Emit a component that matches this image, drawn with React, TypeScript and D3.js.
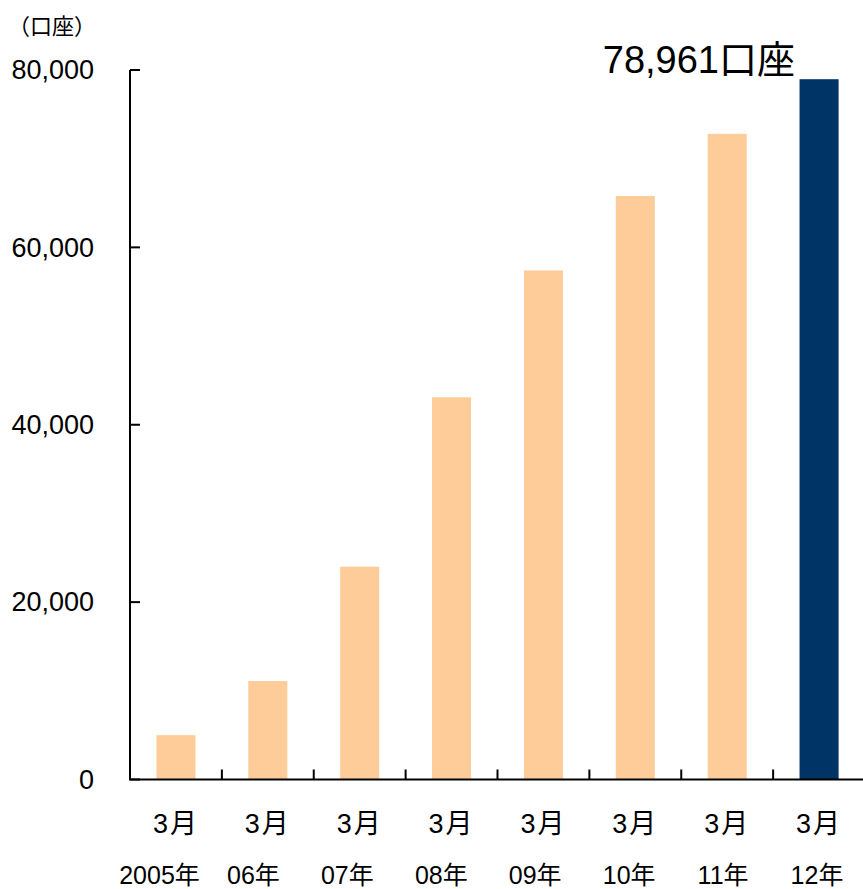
import React from "react";
import * as d3 from "d3";

const categories = ["2005", "06", "07", "08", "09", "10", "11", "12"];
const monthLabels = ["3月", "3月", "3月", "3月", "3月", "3月", "3月", "3月"];
const yearLabels = ["2005年", "06年", "07年", "08年", "09年", "10年", "11年", "12年"];
const accounts = [5000, 11100, 24000, 43100, 57400, 65800, 72800, 78961];
const yTicks = [0, 20000, 40000, 60000, 80000];
const unitLabel = "（口座）";
const highlightLabel = "78,961口座";

const W = 863;
const H = 889;
const FONT = "'Liberation Sans', Arial, 'Noto Sans CJK JP', sans-serif";

export default function App() {
  const x = d3.scaleBand<string>().domain(categories).range([130, 865]).paddingInner(0.575).paddingOuter(0.2875);
  const y = d3.scaleLinear().domain([0, 80000]).range([779.5, 70]);
  const yearX = d3.scalePoint<string>().domain(categories).range([159.5, 817]);
  const fmt = d3.format(",");
  const last = categories.length - 1;

  return (
    <svg width={W} height={H} style={{ position: "absolute", left: 0, top: 0, background: "#fff" }}>
      {accounts.map((v, i) => (
        <rect
          key={i}
          x={x(categories[i])}
          y={y(v)}
          width={x.bandwidth()}
          height={y(0) - y(v)}
          fill={i === last ? "#003366" : "#FECC99"}
        />
      ))}
      {/* y axis */}
      <line x1={130} x2={130} y1={y(80000)} y2={y(0)} stroke="#000" strokeWidth={2} />
      {yTicks.map((t) => (
        <g key={t}>
          <line x1={130} x2={140} y1={y(t)} y2={y(t)} stroke="#000" strokeWidth={2} />
          <text x={94} y={y(t) + 2} textAnchor="end" dominantBaseline="middle" fontFamily={FONT} fontSize={27} fill="#000">
            {fmt(t)}
          </text>
        </g>
      ))}
      {/* x axis */}
      <line x1={129} x2={W} y1={y(0)} y2={y(0)} stroke="#000" strokeWidth={2} />
      {categories.slice(1).map((c) => {
        const xt = (x(c) as number) - (x.step() - x.bandwidth()) / 2;
        return <line key={c} x1={xt} x2={xt} y1={y(0) - 10} y2={y(0)} stroke="#000" strokeWidth={2} />;
      })}
      {categories.map((c, i) => (
        <text
          key={"m" + c}
          x={(x(c) as number) + x.bandwidth() / 2}
          y={833}
          textAnchor="middle"
          fontFamily={FONT}
          fontSize={27}
          letterSpacing={2}
          fill="#000"
        >
          {monthLabels[i]}
        </text>
      ))}
      {categories.map((c, i) => (
        <text key={"y" + c} x={yearX(c)} y={884} textAnchor="middle" fontFamily={FONT} fontSize={25} fill="#000">
          {yearLabels[i]}
        </text>
      ))}
      <text x={8} y={34} fontFamily={FONT} fontSize={22} fill="#000">
        {unitLabel}
      </text>
      <text x={795} y={y(accounts[last]) - 6} textAnchor="end" fontFamily={FONT} fontSize={38} fill="#000">
        {highlightLabel}
      </text>
    </svg>
  );
}
